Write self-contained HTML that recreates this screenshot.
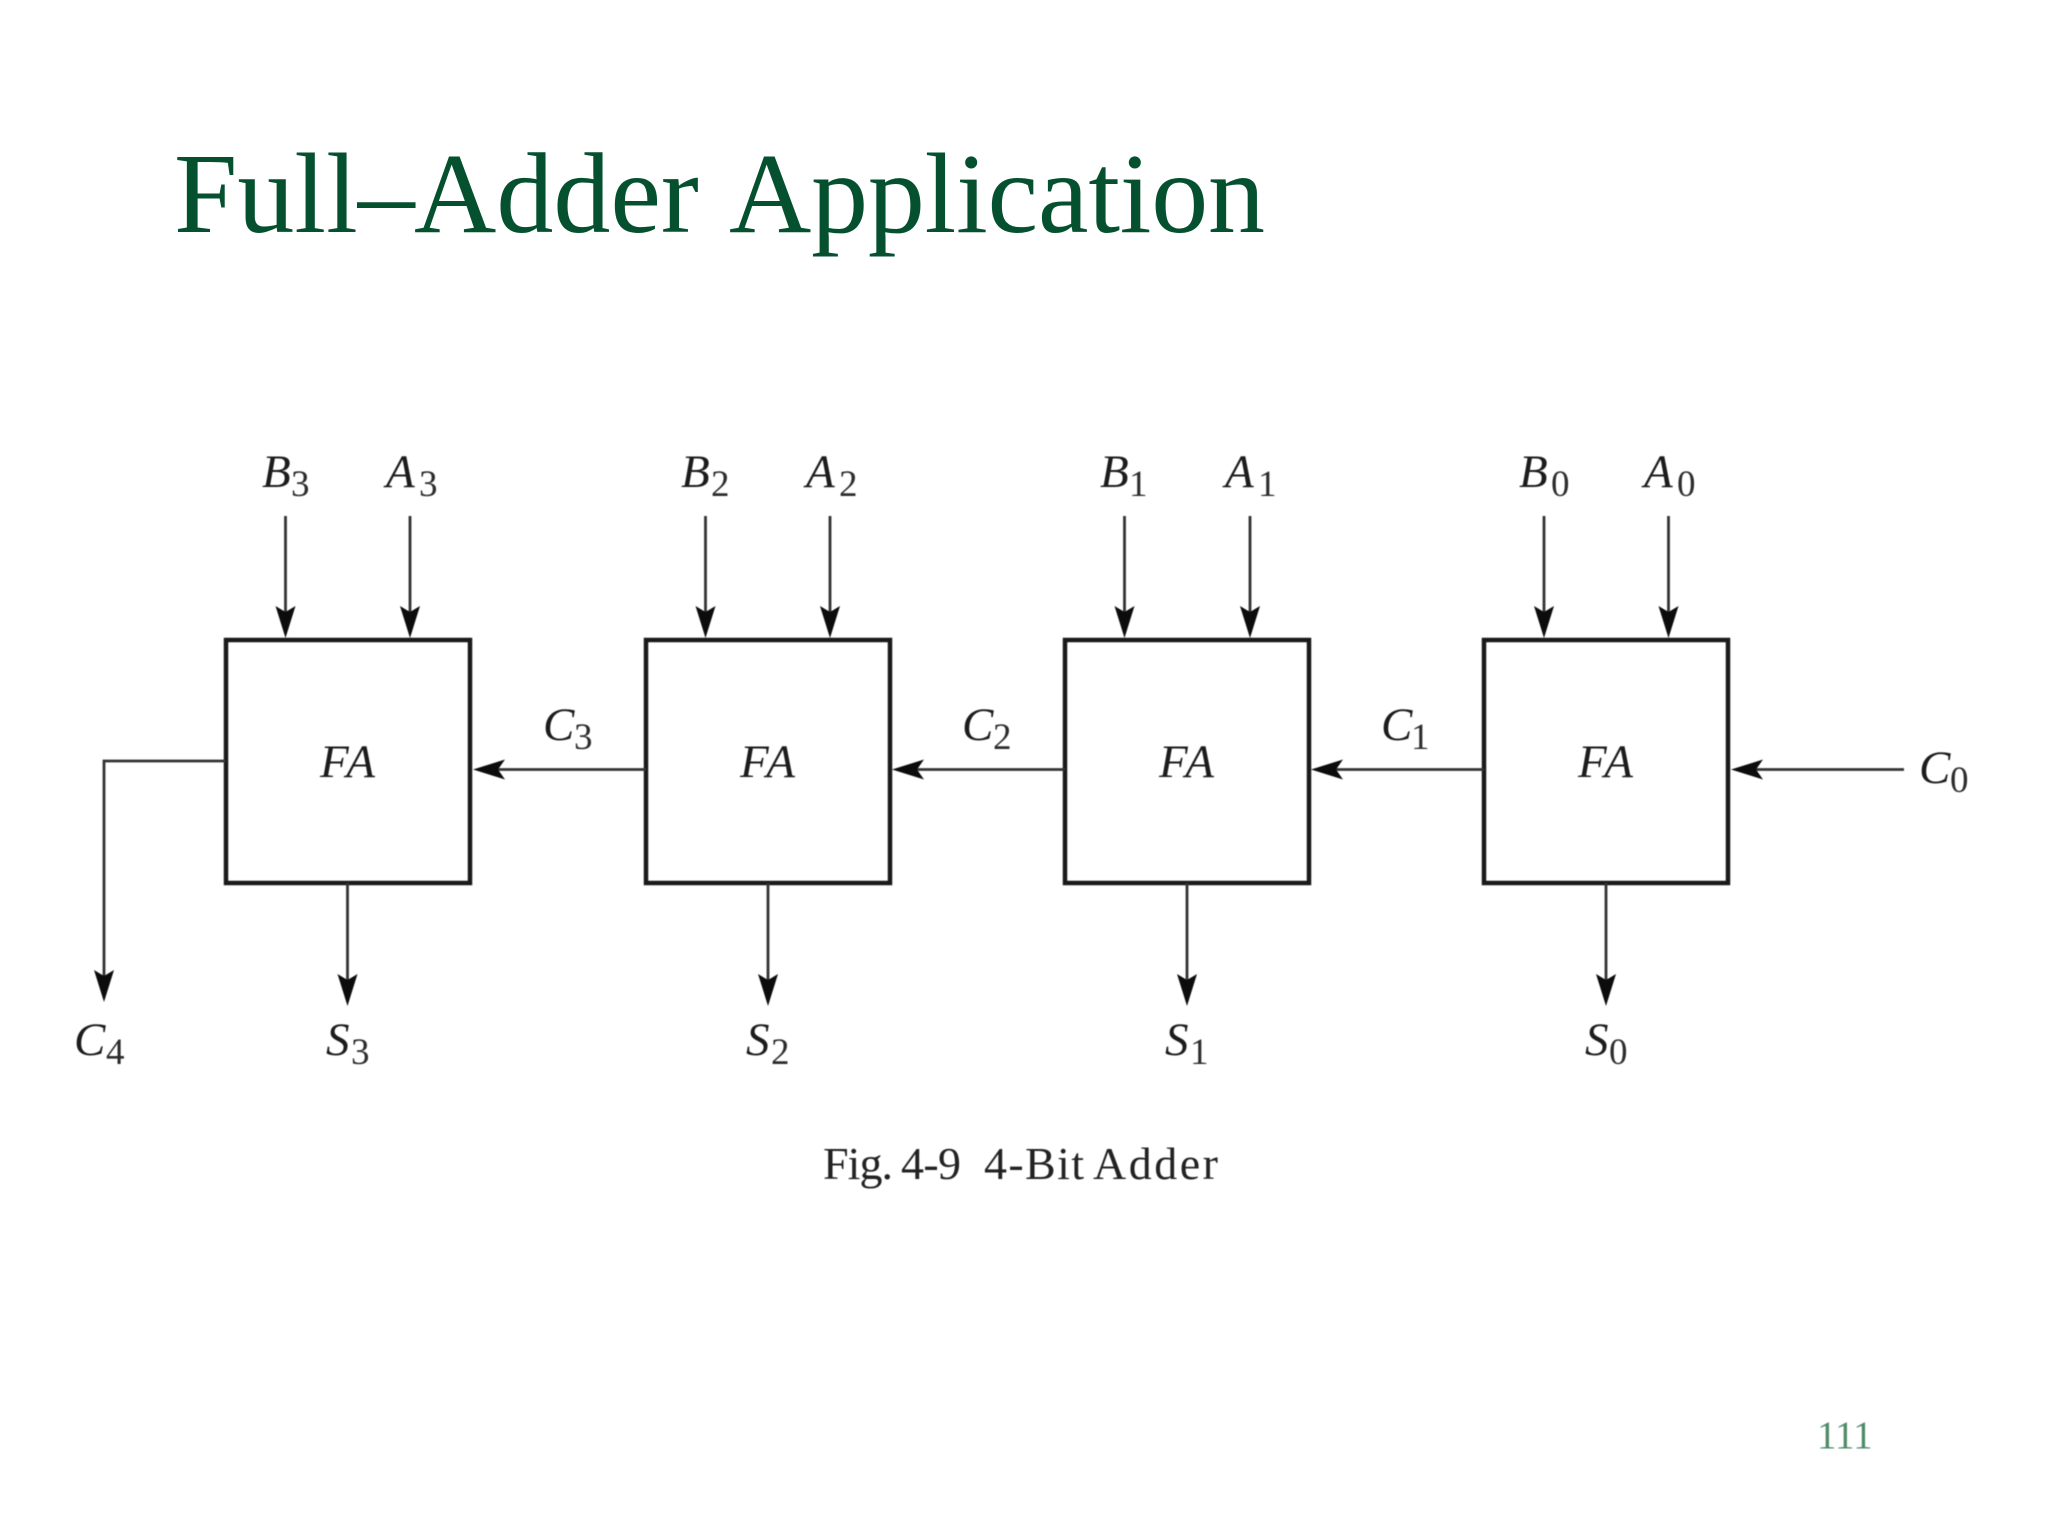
<!DOCTYPE html>
<html>
<head>
<meta charset="utf-8">
<style>
html,body{margin:0;padding:0;background:#fff;width:2048px;height:1536px;overflow:hidden}
svg{display:block}
text{font-family:"Liberation Serif",serif}
.m{font-style:italic;font-size:47px;fill:#1c1c1c;font-kerning:none}
.f{letter-spacing:-2.5px}
.s{font-size:37px;fill:#2c2c2c}
.c{font-size:46px;fill:#222}
.t{font-size:114px;fill:#05502f}
.d{filter:blur(.6px)}
</style>
</head>
<body>
<svg width="2048" height="1536" viewBox="0 0 2048 1536" xmlns="http://www.w3.org/2000/svg">
<rect width="2048" height="1536" fill="#fff"/>
<text class="t" x="174" y="232">Full–</text>
<text class="t" x="414" y="232">Adder</text>
<text class="t" x="729" y="232" textLength="536" lengthAdjust="spacing">Application</text>

<g class="d">
<!-- boxes -->
<g fill="none" stroke="#1a1a1a" stroke-width="4.5">
<rect x="226" y="640" width="244" height="243"/>
<rect x="646" y="640" width="244" height="243"/>
<rect x="1065" y="640" width="244" height="243"/>
<rect x="1484" y="640" width="244" height="243"/>
</g>
<!-- lines -->
<g fill="none" stroke="#333" stroke-width="2.8">
<path d="M285.500 516V615M410 516V615M705.500 516V615M830 516V615M1124.500 516V615M1250 516V615M1544 516V615M1668.500 516V615"/>
<path d="M495 769.500H646M915 769.500H1065M1334 769.500H1484M1755 769.500H1904"/>
<path d="M226 761H104V980"/>
<path d="M347.500 883V985M768 883V985M1187 883V985M1606 883V985"/>
</g>
<!-- arrowheads -->
<g fill="#0c0c0c">
<path d="M275.500 606L285.500 612L295.500 606L285.500 638Z"/>
<path d="M400 606L410 612L420 606L410 638Z"/>
<path d="M695.500 606L705.500 612L715.500 606L705.500 638Z"/>
<path d="M820 606L830 612L840 606L830 638Z"/>
<path d="M1114.500 606L1124.500 612L1134.500 606L1124.500 638Z"/>
<path d="M1240 606L1250 612L1260 606L1250 638Z"/>
<path d="M1534 606L1544 612L1554 606L1544 638Z"/>
<path d="M1658.500 606L1668.500 612L1678.500 606L1668.500 638Z"/>

<path d="M505 759.500L498 769.500L505 779.500L473 769.500Z"/>
<path d="M924 759.500L917 769.500L924 779.500L892 769.500Z"/>
<path d="M1343 759.500L1336 769.500L1343 779.500L1311 769.500Z"/>
<path d="M1763 759.500L1756 769.500L1763 779.500L1731 769.500Z"/>

<path d="M94 970L104 976L114 970L104 1002Z"/>
<path d="M337.500 974L347.500 980L357.500 974L347.500 1006Z"/>
<path d="M758 974L768 980L778 974L768 1006Z"/>
<path d="M1177 974L1187 980L1197 974L1187 1006Z"/>
<path d="M1596 974L1606 980L1616 974L1606 1006Z"/>
</g>

<!-- top labels -->
<text class="m" x="262" y="487">B</text><text class="s" x="291" y="496">3</text>
<text class="m" x="386" y="487">A</text><text class="s" x="419" y="496">3</text>
<text class="m" x="681" y="487">B</text><text class="s" x="711" y="496">2</text>
<text class="m" x="806" y="487">A</text><text class="s" x="839" y="496">2</text>
<text class="m" x="1100" y="487">B</text><text class="s" x="1129" y="496">1</text>
<text class="m" x="1225" y="487">A</text><text class="s" x="1258" y="496">1</text>
<text class="m" x="1519" y="487">B</text><text class="s" x="1551" y="496">0</text>
<text class="m" x="1644" y="487">A</text><text class="s" x="1677" y="496">0</text>

<!-- FA -->
<text class="m f" x="320" y="777">FA</text>
<text class="m f" x="740" y="777">FA</text>
<text class="m f" x="1159" y="777">FA</text>
<text class="m f" x="1578" y="777">FA</text>

<!-- carries -->
<text class="m" x="543" y="740">C</text><text class="s" x="574" y="749">3</text>
<text class="m" x="962" y="740">C</text><text class="s" x="993" y="749">2</text>
<text class="m" x="1381" y="740">C</text><text class="s" x="1411" y="749">1</text>
<text class="m" x="1919" y="783">C</text><text class="s" x="1950" y="792">0</text>
<text class="m" x="74" y="1055">C</text><text class="s" x="106" y="1064">4</text>

<!-- sums -->
<text class="m" x="326" y="1055">S</text><text class="s" x="351" y="1064">3</text>
<text class="m" x="746" y="1055">S</text><text class="s" x="771" y="1064">2</text>
<text class="m" x="1165" y="1055">S</text><text class="s" x="1190" y="1064">1</text>
<text class="m" x="1585" y="1055">S</text><text class="s" x="1609" y="1064">0</text>

<!-- caption -->
<text class="c" x="823" y="1179" textLength="70" lengthAdjust="spacing">Fig.</text>
<text class="c" x="901" y="1179" textLength="60" lengthAdjust="spacing">4-9</text>
<text class="c" x="984" y="1179" textLength="100" lengthAdjust="spacing">4-Bit</text>
<text class="c" x="1093" y="1179" textLength="125" lengthAdjust="spacing">Adder</text>
</g>

<text x="1817" y="1448" font-size="39" fill="#4f8a68" style="filter:blur(.4px)">111</text>
</svg>
</body>
</html>
